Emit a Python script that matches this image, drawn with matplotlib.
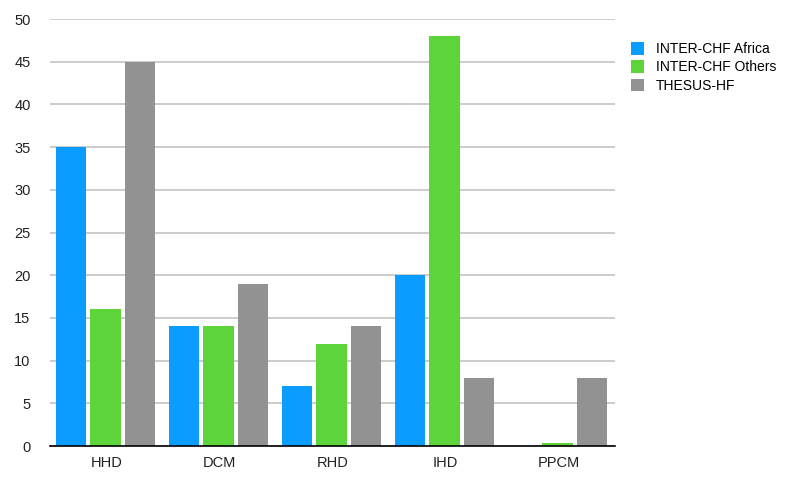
import numpy as np
import matplotlib.pyplot as plt

plt.rcParams['font.family'] = ['Liberation Sans', 'DejaVu Sans']

categories = ['HHD', 'DCM', 'RHD', 'IHD', 'PPCM']
africa = [35, 14, 7, 20, 0]
others = [16, 14, 12, 48, 0.3]
thesus = [45, 19, 14, 8, 8]
series_names = ['INTER-CHF Africa', 'INTER-CHF Others', 'THESUS-HF']
colors = ['#0a9dff', '#5dd53a', '#929292']

fig = plt.figure(figsize=(8.0, 4.83), dpi=100)
ax = fig.add_axes([0.0625, 0.0766, 0.7065, 0.884])

x = np.arange(len(categories))
width = 0.27
step = 0.305
for i, (vals, name) in enumerate(zip([africa, others, thesus], series_names)):
    ax.bar(x - 0.01 + (i - 1) * step, vals, width, color=colors[i], label=name, zorder=3)

ax.set_xlim(-0.5, len(categories) - 0.5)
ax.set_ylim(0, 50)
ax.set_yticks(np.arange(0, 51, 5))
ax.set_xticks(x)
ax.set_xticklabels(categories)
ax.yaxis.grid(True, color='#c4c4c4', linewidth=1.2, zorder=0)
for s in ['top', 'right', 'left']:
    ax.spines[s].set_visible(False)
ax.spines['bottom'].set_color('black')
ax.spines['bottom'].set_linewidth(1.2)
ax.spines['bottom'].set_zorder(4)
ax.tick_params(axis='both', length=0, labelsize=10.5, colors='#222222')
ax.tick_params(axis='y', pad=14)
ax.tick_params(axis='x', pad=7)

ax.legend(loc='upper left', bbox_to_anchor=(1.005, 0.975), frameon=False,
          fontsize=10, handlelength=1.0, handleheight=1.0, handletextpad=0.8,
          labelspacing=0.3)

fig.savefig('out.png', dpi=100)
